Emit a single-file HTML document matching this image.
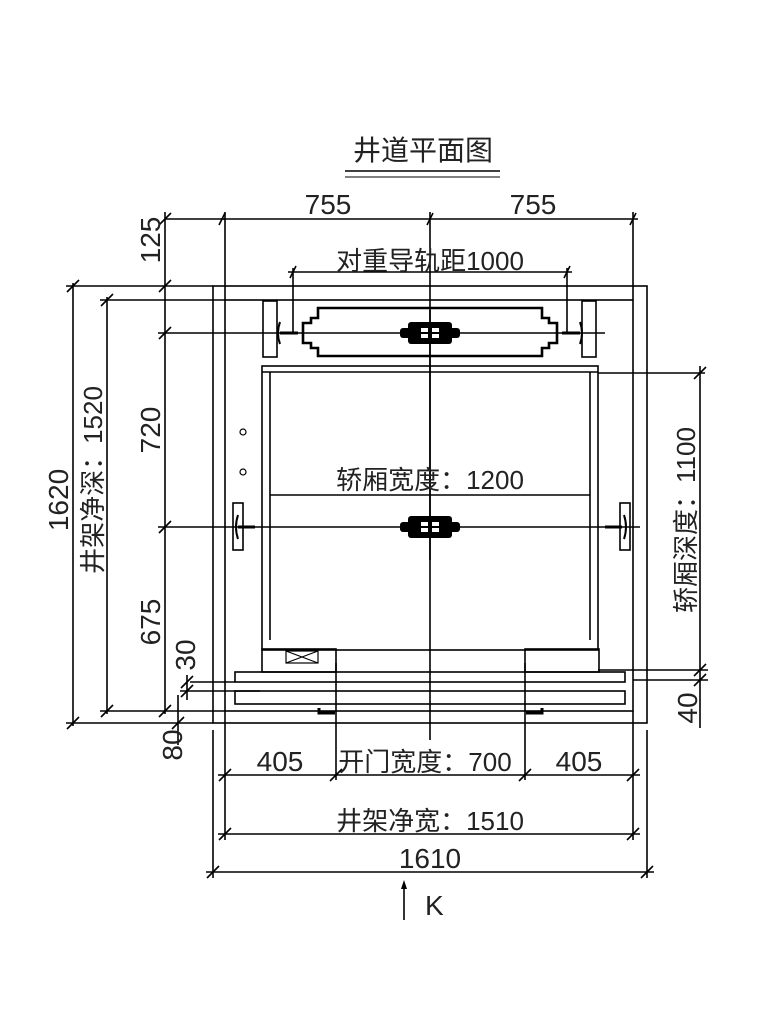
<!DOCTYPE html>
<html><head><meta charset="utf-8"><style>
html,body{margin:0;padding:0;background:#fff}
svg{display:block}
text{font-family:"Liberation Sans","Noto Sans CJK SC",sans-serif;fill:#222}
</style></head><body>
<svg width="768" height="1024" viewBox="0 0 768 1024" xmlns="http://www.w3.org/2000/svg">
<g stroke="#000" stroke-width="1.6" fill="none">
<!-- title underline -->
<line x1="345" y1="171" x2="500" y2="171"/><line x1="345" y1="177" x2="500" y2="177" stroke-width="1"/>
<!-- shaft walls -->
<rect x="213" y="286" width="434" height="437"/>
<rect x="225" y="300" width="408" height="411"/>
<!-- top dims -->
<line x1="222" y1="219" x2="638" y2="219"/>
<line x1="225" y1="212" x2="225" y2="300"/><line x1="633" y1="212" x2="633" y2="300"/>
<line x1="430" y1="212" x2="430" y2="740"/>
<line x1="165" y1="219" x2="225" y2="219"/>
<line x1="288" y1="272" x2="572" y2="272"/>
<line x1="293" y1="268" x2="293" y2="333"/><line x1="567" y1="268" x2="567" y2="333"/>
<!-- left dim lines -->
<line x1="73" y1="283" x2="73" y2="726"/>
<line x1="66" y1="286" x2="213" y2="286"/><line x1="66" y1="723" x2="213" y2="723"/>
<line x1="107" y1="297" x2="107" y2="714"/>
<line x1="100" y1="300" x2="225" y2="300"/><line x1="100" y1="711" x2="225" y2="711"/>
<line x1="165" y1="212" x2="165" y2="714"/>
<line x1="158" y1="333" x2="605" y2="333"/>
<line x1="158" y1="527" x2="640" y2="527"/>
<line x1="190" y1="682" x2="235" y2="682"/><line x1="180" y1="691" x2="260" y2="691"/>
<line x1="187" y1="675" x2="187" y2="700"/><line x1="178" y1="695" x2="178" y2="745"/>
<!-- counterweight -->
<path d="M318 308 H542 V318 H549 V323 H557 V343 H549 V348 H542 V356 H318 V348 H311 V343 H303 V323 H311 V318 H318 Z" stroke-width="2.6"/>
<rect x="263" y="301" width="14" height="56"/><rect x="582" y="301" width="14" height="56"/>
<path d="M280 322 Q276 333 280 344" stroke-width="2"/><path d="M580 322 Q584 333 580 344" stroke-width="2"/>
<line x1="280" y1="333" x2="298" y2="333" stroke-width="3"/><line x1="562" y1="333" x2="580" y2="333" stroke-width="3"/>
<!-- car -->
<rect x="262" y="366" width="336" height="284"/>
<line x1="262" y1="372" x2="598" y2="372"/>
<line x1="270" y1="372" x2="270" y2="640"/><line x1="590" y1="372" x2="590" y2="640"/>
<line x1="270" y1="495" x2="590" y2="495"/>
<!-- car rails -->
<rect x="233" y="503" width="10" height="47"/><rect x="620" y="503" width="10" height="47"/>
<path d="M238 515 Q234 527 238 539" stroke-width="2"/><path d="M624 515 Q628 527 624 539" stroke-width="2"/>
<line x1="238" y1="527" x2="255" y2="527" stroke-width="3"/><line x1="605" y1="527" x2="622" y2="527" stroke-width="3"/>
<circle cx="243" cy="432" r="3" stroke-width="1.2"/><circle cx="243" cy="472" r="3" stroke-width="1.2"/>
<!-- door area -->
<rect x="262" y="649" width="74" height="23"/><rect x="525" y="649" width="74" height="23"/>
<rect x="286" y="651" width="32" height="12" stroke-width="1.2"/>
<line x1="286" y1="651" x2="318" y2="663" stroke-width="1.2"/><line x1="318" y1="651" x2="286" y2="663" stroke-width="1.2"/>
<rect x="235" y="672" width="390" height="10"/>
<rect x="235" y="691" width="390" height="13"/>
<line x1="336" y1="663" x2="336" y2="780"/><line x1="525" y1="663" x2="525" y2="780"/>
<path d="M319 708 v5 h16" stroke-width="3"/><path d="M542 708 v5 h-16" stroke-width="3"/>
<!-- right dims -->
<line x1="598" y1="373" x2="705" y2="373"/>
<line x1="700" y1="366" x2="700" y2="728"/>
<line x1="598" y1="670" x2="708" y2="670"/><line x1="633" y1="680" x2="708" y2="680"/>
<!-- bottom dims -->
<line x1="218" y1="775" x2="640" y2="775"/>
<line x1="225" y1="711" x2="225" y2="840"/><line x1="633" y1="711" x2="633" y2="840"/>
<line x1="218" y1="834" x2="640" y2="834"/>
<line x1="213" y1="730" x2="213" y2="878"/><line x1="647" y1="730" x2="647" y2="878"/>
<line x1="206" y1="872" x2="654" y2="872"/>
<line x1="404" y1="884" x2="404" y2="920"/>
</g>
<!-- ticks -->
<g stroke="#000" stroke-width="1.6">
<path d="M219 225 l6 -12 M427 225 l6 -12 M630 225 l6 -12 M290 278 l6 -12 M564 278 l6 -12
M67 292 l12 -12 M67 729 l12 -12 M101 306 l12 -12 M101 717 l12 -12
M159 225 l12 -12 M159 292 l12 -12 M159 339 l12 -12 M159 533 l12 -12 M159 717 l12 -12
M181 688 l12 -12 M181 697 l12 -12 M172 729 l12 -12
M694 379 l12 -12 M694 676 l12 -12 M694 686 l12 -12
M219 781 l12 -12 M330 781 l12 -12 M519 781 l12 -12 M627 781 l12 -12
M219 840 l12 -12 M627 840 l12 -12 M207 878 l12 -12 M641 878 l12 -12"/>
</g>
<path d="M404 880 l-3 9 h6 z" fill="#000"/>
<!-- guide shoes -->
<g fill="#000">
<rect x="408" y="322" width="44" height="22" rx="3"/><rect x="400" y="328" width="60" height="10" rx="3"/>
<rect x="408" y="516" width="44" height="22" rx="3"/><rect x="400" y="522" width="60" height="10" rx="3"/>
</g>
<g fill="#fff"><rect x="421" y="328" width="7" height="4"/><rect x="432" y="328" width="7" height="4"/><rect x="421" y="334" width="7" height="4"/><rect x="432" y="334" width="7" height="4"/>
<rect x="421" y="522" width="7" height="4"/><rect x="432" y="522" width="7" height="4"/><rect x="421" y="528" width="7" height="4"/><rect x="432" y="528" width="7" height="4"/></g>
<line x1="430" y1="310" x2="430" y2="560" stroke="#000" stroke-width="1.6"/>
<!-- text -->
<text x="423" y="160" font-size="28" text-anchor="middle">井道平面图</text>
<text x="328" y="214" font-size="28" text-anchor="middle">755</text>
<text x="533" y="214" font-size="28" text-anchor="middle">755</text>
<text x="430" y="270" font-size="26" text-anchor="middle">对重导轨距1000</text>
<text x="430" y="489" font-size="26" text-anchor="middle">轿厢宽度：1200</text>
<text x="280" y="771" font-size="28" text-anchor="middle">405</text>
<text x="425" y="771" font-size="26" text-anchor="middle">开门宽度：700</text>
<text x="579" y="771" font-size="28" text-anchor="middle">405</text>
<text x="430" y="830" font-size="26" text-anchor="middle">井架净宽：1510</text>
<text x="430" y="868" font-size="28" text-anchor="middle">1610</text>
<text x="425" y="915" font-size="28">K</text>
<text transform="translate(68,500) rotate(-90)" font-size="28" text-anchor="middle">1620</text>
<text transform="translate(102,480) rotate(-90)" font-size="26" text-anchor="middle">井架净深：1520</text>
<text transform="translate(160,240) rotate(-90)" font-size="28" text-anchor="middle">125</text>
<text transform="translate(160,430) rotate(-90)" font-size="28" text-anchor="middle">720</text>
<text transform="translate(160,622) rotate(-90)" font-size="28" text-anchor="middle">675</text>
<text transform="translate(195,655) rotate(-90)" font-size="28" text-anchor="middle">30</text>
<text transform="translate(182,745) rotate(-90)" font-size="28" text-anchor="middle">80</text>
<text transform="translate(695,520) rotate(-90)" font-size="26" text-anchor="middle">轿厢深度：1100</text>
<text transform="translate(697,708) rotate(-90)" font-size="28" text-anchor="middle">40</text>
</svg>
</body></html>
